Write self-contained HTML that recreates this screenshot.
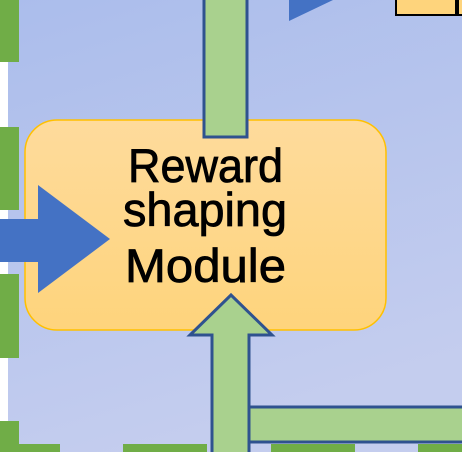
<!DOCTYPE html>
<html><head><meta charset="utf-8"><style>
html,body{margin:0;padding:0;width:462px;height:452px;overflow:hidden;background:#fff}
</style></head><body>
<svg width="462" height="452" viewBox="0 0 462 452" xmlns="http://www.w3.org/2000/svg">
<defs>
<linearGradient id="bg" x1="0" y1="0" x2="0.3" y2="1"><stop offset="0" stop-color="#abbdec"/><stop offset="1" stop-color="#c4cdee"/></linearGradient>
<linearGradient id="yb" x1="0" y1="0" x2="0" y2="1"><stop offset="0" stop-color="#fedb9c"/><stop offset="1" stop-color="#fed47c"/></linearGradient>
</defs>
<rect x="8" y="0" width="454" height="452" fill="url(#bg)"/>
<g fill="#70ad47">
<rect x="0" y="0" width="19" height="62"/>
<rect x="0" y="127" width="19" height="83"/>
<rect x="0" y="274" width="19" height="84"/>
<rect x="0" y="421" width="19" height="31"/>
<rect x="0" y="444" width="60" height="8"/>
<rect x="123" y="444" width="84" height="8"/>
<rect x="271" y="444" width="84" height="8"/>
<rect x="418" y="444" width="44" height="8"/>
</g>
<rect x="396" y="-2" width="60" height="17" fill="#fed47c" stroke="#000" stroke-width="2"/>
<rect x="458" y="-2" width="8" height="17" fill="#fed47c" stroke="#000" stroke-width="2"/>
<polygon points="289,0 333,0 289,21" fill="#4472c4"/>
<rect x="25" y="120" width="361" height="210" rx="32" fill="url(#yb)" stroke="#ffc000" stroke-width="1.5"/>
<rect x="204" y="-3" width="43" height="140" fill="#a9d18e" stroke="#2f528f" stroke-width="3"/>
<polygon points="0,219 38,219 38,185 110,239 38,293 38,262 0,262" fill="#4472c4"/>
<rect x="247" y="407" width="220" height="35" fill="#a9d18e" stroke="#2f528f" stroke-width="3"/>
<polygon points="212,455 212,335 190,335 231,295 272,335 249,335 249,455" fill="#a9d18e" stroke="#2f528f" stroke-width="3"/>
<g font-family="Liberation Sans, sans-serif" font-size="47" fill="#000" stroke="#000" stroke-width="0.8">
<text x="128" y="182" textLength="155" lengthAdjust="spacingAndGlyphs">Reward</text>
<text x="123" y="226" textLength="164" lengthAdjust="spacingAndGlyphs">shaping</text>
<text x="125" y="282" textLength="161" lengthAdjust="spacingAndGlyphs">Module</text>
</g>
</svg>
</body></html>
